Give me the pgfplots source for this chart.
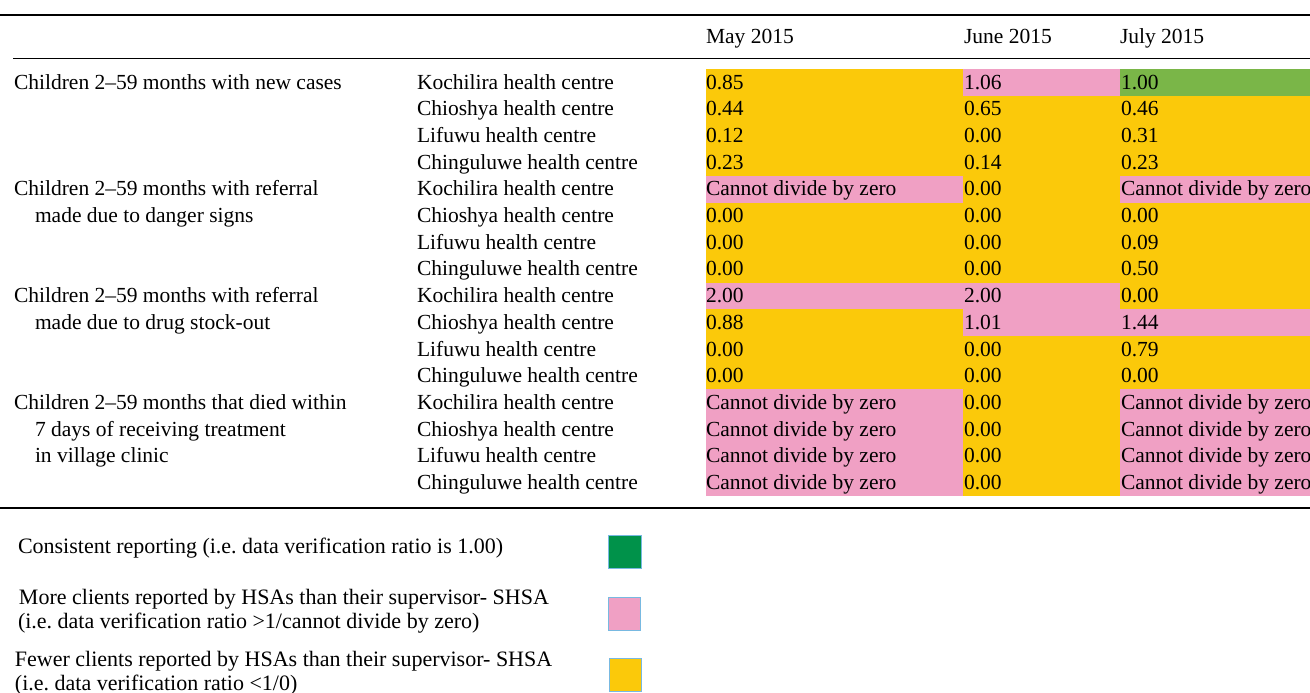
\documentclass[border=0pt]{standalone}
\usepackage{pgfplots}
\pgfplotsset{compat=1.18}
\usepackage{fontspec}
\setmainfont{Liberation Serif}
\frenchspacing
\definecolor{ylw}{RGB}{251,201,10}
\definecolor{pnk}{RGB}{240,160,196}
\definecolor{grn}{RGB}{122,182,72}
\definecolor{lgrn}{RGB}{0,146,74}
\definecolor{lblue}{RGB}{120,185,225}
\begin{document}
\begin{tikzpicture}[x=1pt,y=1pt]
\begin{axis}[
  at={(0pt,0pt)}, anchor=south west,
  scale only axis, width=1310pt, height=693pt,
  xmin=0, xmax=1310, ymin=0, ymax=693, y dir=reverse,
  hide axis, clip=false,
  cell/.style={draw=none, fill=#1, forget plot},
  txt/.style={draw=none, mark=none, forget plot, nodes near coords, point meta=explicit symbolic,
    every node near coord/.append style={anchor=base west, inner sep=0pt, outer sep=0pt, font=\fontsize{21.5}{25}\selectfont, text=black}},
  ltxt/.style={txt, every node near coord/.append style={font=\fontsize{22}{26}\selectfont}},
]
% ---- rules
\addplot[black, line width=1.3pt, forget plot] coordinates {(0,15) (1310,15)};
\addplot[black, line width=1.0pt, forget plot] coordinates {(13,59) (1310,59)};
\addplot[black, line width=1.3pt, forget plot] coordinates {(0,508) (1310,508)};
% ---- cells: May (706-963), June (963-1120), July (1120-1310)
% row 1
\addplot[cell=ylw] coordinates {(706,69.0) (963,69.0) (963,95.7) (706,95.7)};
\addplot[cell=pnk] coordinates {(963,69.0) (1120,69.0) (1120,95.7) (963,95.7)};
\addplot[cell=grn] coordinates {(1120,69.0) (1310,69.0) (1310,95.7) (1120,95.7)};
% row 2
\addplot[cell=ylw] coordinates {(706,95.7) (963,95.7) (963,122.4) (706,122.4)};
\addplot[cell=ylw] coordinates {(963,95.7) (1120,95.7) (1120,122.4) (963,122.4)};
\addplot[cell=ylw] coordinates {(1120,95.7) (1310,95.7) (1310,122.4) (1120,122.4)};
% row 3
\addplot[cell=ylw] coordinates {(706,122.4) (963,122.4) (963,149.1) (706,149.1)};
\addplot[cell=ylw] coordinates {(963,122.4) (1120,122.4) (1120,149.1) (963,149.1)};
\addplot[cell=ylw] coordinates {(1120,122.4) (1310,122.4) (1310,149.1) (1120,149.1)};
% row 4
\addplot[cell=ylw] coordinates {(706,149.1) (963,149.1) (963,175.8) (706,175.8)};
\addplot[cell=ylw] coordinates {(963,149.1) (1120,149.1) (1120,175.8) (963,175.8)};
\addplot[cell=ylw] coordinates {(1120,149.1) (1310,149.1) (1310,175.8) (1120,175.8)};
% row 5
\addplot[cell=pnk] coordinates {(706,175.8) (963,175.8) (963,202.5) (706,202.5)};
\addplot[cell=ylw] coordinates {(963,175.8) (1120,175.8) (1120,202.5) (963,202.5)};
\addplot[cell=pnk] coordinates {(1120,175.8) (1310,175.8) (1310,202.5) (1120,202.5)};
% row 6
\addplot[cell=ylw] coordinates {(706,202.5) (963,202.5) (963,229.2) (706,229.2)};
\addplot[cell=ylw] coordinates {(963,202.5) (1120,202.5) (1120,229.2) (963,229.2)};
\addplot[cell=ylw] coordinates {(1120,202.5) (1310,202.5) (1310,229.2) (1120,229.2)};
% row 7
\addplot[cell=ylw] coordinates {(706,229.2) (963,229.2) (963,255.9) (706,255.9)};
\addplot[cell=ylw] coordinates {(963,229.2) (1120,229.2) (1120,255.9) (963,255.9)};
\addplot[cell=ylw] coordinates {(1120,229.2) (1310,229.2) (1310,255.9) (1120,255.9)};
% row 8
\addplot[cell=ylw] coordinates {(706,255.9) (963,255.9) (963,282.6) (706,282.6)};
\addplot[cell=ylw] coordinates {(963,255.9) (1120,255.9) (1120,282.6) (963,282.6)};
\addplot[cell=ylw] coordinates {(1120,255.9) (1310,255.9) (1310,282.6) (1120,282.6)};
% row 9
\addplot[cell=pnk] coordinates {(706,282.6) (963,282.6) (963,309.3) (706,309.3)};
\addplot[cell=pnk] coordinates {(963,282.6) (1120,282.6) (1120,309.3) (963,309.3)};
\addplot[cell=ylw] coordinates {(1120,282.6) (1310,282.6) (1310,309.3) (1120,309.3)};
% row 10
\addplot[cell=ylw] coordinates {(706,309.3) (963,309.3) (963,336.0) (706,336.0)};
\addplot[cell=pnk] coordinates {(963,309.3) (1120,309.3) (1120,336.0) (963,336.0)};
\addplot[cell=pnk] coordinates {(1120,309.3) (1310,309.3) (1310,336.0) (1120,336.0)};
% row 11
\addplot[cell=ylw] coordinates {(706,336.0) (963,336.0) (963,362.7) (706,362.7)};
\addplot[cell=ylw] coordinates {(963,336.0) (1120,336.0) (1120,362.7) (963,362.7)};
\addplot[cell=ylw] coordinates {(1120,336.0) (1310,336.0) (1310,362.7) (1120,362.7)};
% row 12
\addplot[cell=ylw] coordinates {(706,362.7) (963,362.7) (963,389.4) (706,389.4)};
\addplot[cell=ylw] coordinates {(963,362.7) (1120,362.7) (1120,389.4) (963,389.4)};
\addplot[cell=ylw] coordinates {(1120,362.7) (1310,362.7) (1310,389.4) (1120,389.4)};
% rows 13-16
\addplot[cell=pnk] coordinates {(706,389.4) (963,389.4) (963,416.1) (706,416.1)};
\addplot[cell=ylw] coordinates {(963,389.4) (1120,389.4) (1120,416.1) (963,416.1)};
\addplot[cell=pnk] coordinates {(1120,389.4) (1310,389.4) (1310,416.1) (1120,416.1)};
\addplot[cell=pnk] coordinates {(706,416.1) (963,416.1) (963,442.8) (706,442.8)};
\addplot[cell=ylw] coordinates {(963,416.1) (1120,416.1) (1120,442.8) (963,442.8)};
\addplot[cell=pnk] coordinates {(1120,416.1) (1310,416.1) (1310,442.8) (1120,442.8)};
\addplot[cell=pnk] coordinates {(706,442.8) (963,442.8) (963,469.5) (706,469.5)};
\addplot[cell=ylw] coordinates {(963,442.8) (1120,442.8) (1120,469.5) (963,469.5)};
\addplot[cell=pnk] coordinates {(1120,442.8) (1310,442.8) (1310,469.5) (1120,469.5)};
\addplot[cell=pnk] coordinates {(706,469.5) (963,469.5) (963,496.2) (706,496.2)};
\addplot[cell=ylw] coordinates {(963,469.5) (1120,469.5) (1120,496.2) (963,496.2)};
\addplot[cell=pnk] coordinates {(1120,469.5) (1310,469.5) (1310,496.2) (1120,496.2)};
% ---- legend swatches
\addplot[fill=lgrn, draw=lblue, line width=0.8pt, forget plot] coordinates {(608,535) (641,535) (641,568) (608,568)} -- cycle;
\addplot[fill=pnk, draw=lblue, line width=0.8pt, forget plot] coordinates {(608,597) (640,597) (640,630) (608,630)} -- cycle;
\addplot[fill=ylw, draw=lblue, line width=0.8pt, forget plot] coordinates {(609,658) (641,658) (641,691) (609,691)} -- cycle;
% ---- header
\addplot[txt] coordinates {(706,44) [May 2015] (964,44) [June 2015] (1120,44) [July 2015]};
% ---- May values
\addplot[txt] coordinates {
 (706,89.0) [0.85] (706,115.7) [0.44] (706,142.4) [0.12] (706,169.1) [0.23]
 (706,195.8) [Cannot divide by zero] (706,222.5) [0.00] (706,249.2) [0.00] (706,275.9) [0.00]
 (706,302.6) [2.00] (706,329.3) [0.88] (706,356.0) [0.00] (706,382.7) [0.00]
 (706,409.4) [Cannot divide by zero] (706,436.1) [Cannot divide by zero] (706,462.8) [Cannot divide by zero] (706,489.5) [Cannot divide by zero]};
% ---- June values
\addplot[txt] coordinates {
 (964,89.0) [1.06] (964,115.7) [0.65] (964,142.4) [0.00] (964,169.1) [0.14]
 (964,195.8) [0.00] (964,222.5) [0.00] (964,249.2) [0.00] (964,275.9) [0.00]
 (964,302.6) [2.00] (964,329.3) [1.01] (964,356.0) [0.00] (964,382.7) [0.00]
 (964,409.4) [0.00] (964,436.1) [0.00] (964,462.8) [0.00] (964,489.5) [0.00]};
% ---- July values
\addplot[txt] coordinates {
 (1121,89.0) [1.00] (1121,115.7) [0.46] (1121,142.4) [0.31] (1121,169.1) [0.23]
 (1121,195.8) [Cannot divide by zero] (1121,222.5) [0.00] (1121,249.2) [0.09] (1121,275.9) [0.50]
 (1121,302.6) [0.00] (1121,329.3) [1.44] (1121,356.0) [0.79] (1121,382.7) [0.00]
 (1121,409.4) [Cannot divide by zero] (1121,436.1) [Cannot divide by zero] (1121,462.8) [Cannot divide by zero] (1121,489.5) [Cannot divide by zero]};
% ---- health centres
\addplot[txt] coordinates {
 (417,89.0) [Kochilira health centre] (417,115.7) [Chioshya health centre] (417,142.4) [Lifuwu health centre] (417,169.1) [Chinguluwe health centre]
 (417,195.8) [Kochilira health centre] (417,222.5) [Chioshya health centre] (417,249.2) [Lifuwu health centre] (417,275.9) [Chinguluwe health centre]
 (417,302.6) [Kochilira health centre] (417,329.3) [Chioshya health centre] (417,356.0) [Lifuwu health centre] (417,382.7) [Chinguluwe health centre]
 (417,409.4) [Kochilira health centre] (417,436.1) [Chioshya health centre] (417,462.8) [Lifuwu health centre] (417,489.5) [Chinguluwe health centre]};
% ---- indicators
\addplot[txt] coordinates {
 (14,89.0) [Children 2–59 months with new cases]
 (14,195.8) [Children 2–59 months with referral] (35,222.5) [made due to danger signs]
 (14,302.6) [Children 2–59 months with referral] (35,329.3) [made due to drug stock-out]
 (14,409.4) [Children 2–59 months that died within] (35,436.1) [7 days of receiving treatment] (35,462.8) [in village clinic]};
% ---- legend text
\addplot[ltxt] coordinates {
 (18,553) [Consistent reporting (i.e. data verification ratio is 1.00)]
 (19,604) [More clients reported by HSAs than their supervisor- SHSA]
 (18,628) [(i.e. data verification ratio >1/cannot divide by zero)]
 (15,666) [Fewer clients reported by HSAs than their supervisor- SHSA]
 (15,690) [(i.e. data verification ratio <1/0)]};
\end{axis}
\pgfresetboundingbox
\path (0pt,0pt) rectangle (1310pt,693pt);
\end{tikzpicture}
\end{document}
